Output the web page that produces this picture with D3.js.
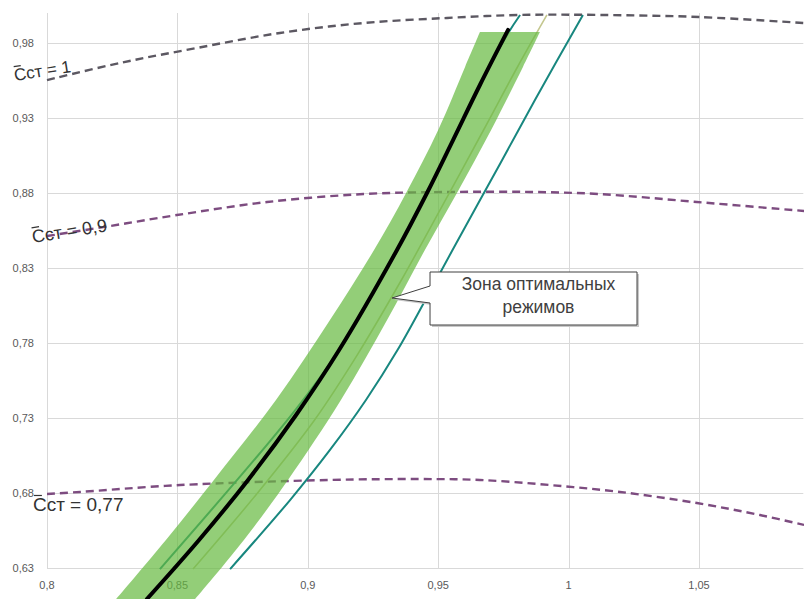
<!DOCTYPE html>
<html>
<head>
<meta charset="utf-8">
<script src="https://cdn.jsdelivr.net/npm/d3@7"></script>
<style>
    body { margin: 0; background: #fff; }
    svg { display: block; font-family: "Liberation Sans", Arial, sans-serif; }
    .grid line { stroke: #d9d9d9; stroke-width: 1; }
    .tick-label { font-size: 11px; fill: #595959; }
</style>
</head>
<body>
<svg id="chart" width="804" height="599"></svg>
<script>
/**
 * Data.
 */
const xTicks = [0.8, 0.85, 0.9, 0.95, 1, 1.05];
const yTicks = [0.63, 0.68, 0.73, 0.78, 0.83, 0.88, 0.93, 0.98];

// Dashed iso-lines: [x, y]
const cst1 = [[0.8, 0.9553], [0.828, 0.9667], [0.8575, 0.9767], [0.8893, 0.9867], [0.9212, 0.9933],
    [0.9534, 0.9967], [0.9814, 0.9987], [1.012, 0.9987], [1.0504, 0.9973], [1.0903, 0.9933]];
const cst09 = [[0.8, 0.8513], [0.8242, 0.858], [0.8498, 0.8653], [0.8844, 0.874], [0.9213, 0.8793],
    [0.9545, 0.8807], [0.9852, 0.8807], [1.012, 0.8793], [1.0492, 0.874], [1.0903, 0.868]];
const cst077 = [[0.8, 0.6793], [0.8127, 0.6807], [0.851, 0.6853], [0.9085, 0.6887], [0.943, 0.6893],
    [0.966, 0.6887], [0.9929, 0.6853], [1.0197, 0.6807], [1.0492, 0.6733], [1.0734, 0.6653], [1.0903, 0.6587]];

// Optimal zone: [y, xLeft, xRight]
const zone = [[0.6093, 0.8265, 0.8568], [0.6487, 0.8456, 0.8755], [0.6887, 0.864, 0.8924],
    [0.742, 0.8878, 0.9127], [0.7953, 0.9085, 0.9304], [0.842, 0.9254, 0.9449], [0.88, 0.9377, 0.9572],
    [0.922, 0.95, 0.9703], [0.964, 0.9603, 0.9825], [0.9873, 0.966, 0.989]];

// Optimal regime curve
const optimum = [[0.8383, 0.6093], [0.8583, 0.6487], [0.8771, 0.6887], [0.8955, 0.732], [0.912, 0.7753],
    [0.9342, 0.842], [0.9457, 0.88], [0.9557, 0.9153], [0.966, 0.952], [0.9768, 0.9887]];

// Thin boundary curves
const tealLeft = [[0.8433, 0.6293], [0.8943, 0.7333], [0.912, 0.7753], [0.9342, 0.842], [0.9457, 0.88],
    [0.9557, 0.9153], [0.966, 0.952], [0.9771, 0.9873], [0.9814, 0.9987]];
const olive = [[0.856, 0.6293], [0.8801, 0.6787], [0.9026, 0.7287], [0.9194, 0.7733], [0.9359, 0.822],
    [0.9501, 0.8667], [0.9674, 0.922], [0.9804, 0.964], [0.9917, 0.9987]];
const tealRight = [[0.8702, 0.6293], [0.8932, 0.6753], [0.9085, 0.7087], [0.9223, 0.742], [0.9344, 0.7753],
    [0.9451, 0.8087], [0.9555, 0.842], [0.9739, 0.9], [0.9871, 0.942], [1.0055, 0.9987]];

// Curve labels: [subscripted name, value text, x, y, font size, angle]
const curveLabels = [
    ['Сст = 1', 0.7877, 0.9547, 17, -9],
    ['Сст = 0,9', 0.7946, 0.8467, 18, -9],
    ['Сст = 0,77', 0.7946, 0.6677, 19, 0]
];

// Callout: tip position and text
const calloutTip = [0.9323, 0.81];
const calloutText = ['Зона оптимальных', 'режимов'];

/**
 * Layout.
 */
const margin = { top: 13, right: 0, bottom: 31, left: 47 },
    visWidth = 804, visHeight = 599,
    width = 756.3, height = visHeight - margin.top - margin.bottom;

const svg = d3.select('#chart');
const g = svg.append('g').attr('transform', 'translate(' + margin.left + ',' + margin.top + ')');

const xScale = d3.scaleLinear().domain([0.8, 1.09]).range([0, width]);
const yScale = d3.scaleLinear().domain([0.63, 1.0]).range([height, 0]);

const fmt = v => d3.format('~g')(v).replace('.', ',');

// Grid
const grid = g.append('g').attr('class', 'grid');
grid.selectAll('.h').data(yTicks).join('line')
    .attr('x1', 0).attr('x2', width)
    .attr('y1', d => Math.round(yScale(d)) + 0.5).attr('y2', d => Math.round(yScale(d)) + 0.5);
grid.selectAll('.v').data(xTicks).join('line')
    .attr('y1', 0).attr('y2', height)
    .attr('x1', d => Math.round(xScale(d)) + 0.5).attr('x2', d => Math.round(xScale(d)) + 0.5);

// Axis labels
g.append('g').selectAll('text').data(yTicks).join('text')
    .attr('class', 'tick-label')
    .attr('x', -13).attr('y', d => yScale(d)).attr('dy', '0.35em')
    .attr('text-anchor', 'end')
    .text(fmt);
g.append('g').selectAll('text').data(xTicks).join('text')
    .attr('class', 'tick-label')
    .attr('x', d => xScale(d)).attr('y', height + 21)
    .attr('text-anchor', 'middle')
    .text(fmt);

const line = d3.line()
    .x(d => xScale(d[0]))
    .y(d => yScale(d[1]))
    .curve(d3.curveCatmullRom.alpha(0.5));

// Dashed iso-lines
const dashed = [
    { data: cst1, color: '#5c5862' },
    { data: cst09, color: '#7d4c80' },
    { data: cst077, color: '#7d4c80' }
];
g.append('g').selectAll('path').data(dashed).join('path')
    .attr('d', d => line(d.data))
    .attr('fill', 'none')
    .attr('stroke', d => d.color)
    .attr('stroke-width', 2.4)
    .attr('stroke-dasharray', '8,5');

// Thin boundary curves under the zone
g.append('path').attr('d', line(tealLeft))
    .attr('fill', 'none').attr('stroke', '#18877f').attr('stroke-width', 2);
g.append('path').attr('d', line(olive))
    .attr('fill', 'none').attr('stroke', '#c4c78f').attr('stroke-width', 1.6);
g.append('path').attr('d', line(tealRight))
    .attr('fill', 'none').attr('stroke', '#18877f').attr('stroke-width', 2);

// Optimal zone
const area = d3.area()
    .y(d => yScale(d[0]))
    .x0(d => xScale(d[1]))
    .x1(d => xScale(d[2]))
    .curve(d3.curveCatmullRom.alpha(0.5));
g.append('path').attr('d', area(zone))
    .attr('fill', '#65b93e').attr('fill-opacity', 0.7);

// Optimal curve
g.append('path').attr('d', line(optimum))
    .attr('fill', 'none').attr('stroke', '#000').attr('stroke-width', 4)
    .attr('stroke-linecap', 'round');

// Curve labels, with a bar over the C
const labels = g.append('g').selectAll('g').data(curveLabels).join('g')
    .attr('transform', d => 'translate(' + xScale(d[1]) + ',' + yScale(d[2]) + ') rotate(' + d[4] + ')');
labels.append('text')
    .attr('font-size', d => d[3])
    .attr('fill', '#333')
    .text(d => d[0]);
labels.append('line')
    .attr('x1', 1).attr('x2', d => 1 + d[3] * 0.42)
    .attr('y1', d => -d[3] * 0.84).attr('y2', d => -d[3] * 0.84)
    .attr('stroke', '#333').attr('stroke-width', 1.2);

// Callout
const tx = xScale(calloutTip[0]), ty = yScale(calloutTip[1]);
const bx = tx + 38, by = ty - 26, bw = 207, bh = 53;
const calloutPath = 'M' + bx + ',' + by + 'H' + (bx + bw) + 'V' + (by + bh) + 'H' + bx +
    'V' + (ty + 5) + 'L' + tx + ',' + ty + 'L' + bx + ',' + (ty - 12) + 'Z';
const callout = g.append('g');
callout.append('path').attr('d', calloutPath)
    .attr('transform', 'translate(2,2)')
    .attr('fill', '#c8c8c8');
callout.append('path').attr('d', calloutPath)
    .attr('fill', '#fff').attr('stroke', '#404040').attr('stroke-width', 1);
callout.selectAll('text').data(calloutText).join('text')
    .attr('x', bx + bw / 2 + 5).attr('y', (d, i) => by + 18 + i * 23)
    .attr('text-anchor', 'middle')
    .attr('font-size', 17.5)
    .attr('fill', '#404040')
    .text(d => d);
</script>
</body>
</html>
